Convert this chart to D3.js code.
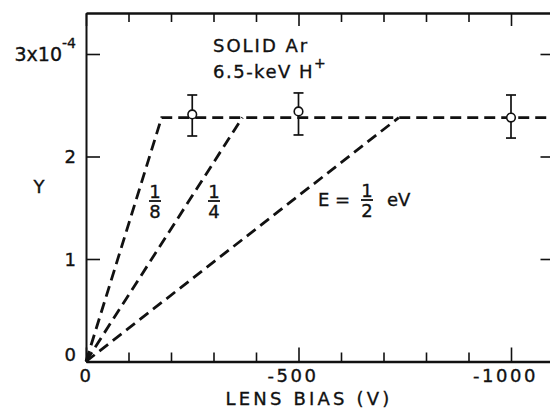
<!DOCTYPE html>
<html><head><meta charset="utf-8">
<script src="https://cdn.jsdelivr.net/npm/d3@7"></script>
<style>
body{margin:0;background:#fff}
text{font-family:"DejaVu Sans",sans-serif;fill:#111;stroke:#111;stroke-width:0.35px}
</style>
</head><body>
<svg id="chart" width="550" height="413"></svg>
<script>
// Measured sputtering yield vs. lens bias (solid Ar, 6.5-keV H+)
const biasPoints = [-250, -500, -1000];
const yieldValues = [2.41, 2.44, 2.38];
const yieldLow = [2.20, 2.21, 2.18];
const yieldHigh = [2.60, 2.62, 2.60];

// Model curves: linear rise from origin to a common plateau, one per emission energy
const plateauYield = 2.38;
const energyNum = ["1", "1", "1"];
const energyDen = ["8", "4", "2"];
const cutoffBias = [-178, -368, -736];

const xTickValues = d3.range(0, -1001, -100);
const xLabelValues = [0, -500, -1000];
const yTickValues = [0, 1, 2, 3];

const svg = d3.select("#chart");
svg.append("rect").attr("width", 550).attr("height", 413).attr("fill", "#fff");

const x = d3.scaleLinear().domain([0, -1100]).range([86, 553.5]);
const y = d3.scaleLinear().domain([0, 3.4]).range([361.5, 13]);

const ink = "#111";

function styleAxis(g, w) {
  g.select(".domain").attr("stroke", ink).attr("stroke-width", w);
  g.selectAll(".tick line").attr("stroke", ink).attr("stroke-width", 1.6);
}

// bottom axis
const gx = svg.append("g").attr("transform", `translate(0,${y(0)})`)
  .call(d3.axisBottom(x).tickValues(xTickValues).tickSize(-9).tickSizeOuter(0)
    .tickFormat(d => xLabelValues.includes(d) ? (d === 0 ? "0" : "-" + Math.abs(d)) : ""));
styleAxis(gx, 2.4);
gx.selectAll(".tick line").attr("y2", d => d % 500 === 0 ? -14 : -9);
gx.selectAll(".tick text").attr("y", 20.5).attr("dy", 0).attr("font-size", 18)
  .attr("letter-spacing", 2.5).attr("fill", ink).style("font-family", '"DejaVu Sans",sans-serif')
  .attr("dx", d => d === 0 ? 0 : -6);

// top axis
const gt = svg.append("g").attr("transform", `translate(0,${y(3.4)})`)
  .call(d3.axisTop(x).tickValues(xTickValues).tickSize(-9).tickSizeOuter(0).tickFormat(""));
styleAxis(gt, 2.4);
gt.selectAll(".tick line").attr("y2", d => d % 500 === 0 ? 13 : 9);

// left axis
const gy = svg.append("g").attr("transform", `translate(${x(0)},0)`)
  .call(d3.axisLeft(y).tickValues(yTickValues).tickSize(-14).tickSizeOuter(0).tickFormat(""));
styleAxis(gy, 2);

// right axis
const gr = svg.append("g").attr("transform", `translate(${x(-1100)},0)`)
  .call(d3.axisRight(y).tickValues([1, 2, 3]).tickSize(-13).tickSizeOuter(0).tickFormat(""));
styleAxis(gr, 2);

// y tick labels
const yl = svg.append("g").attr("font-size", 18).attr("text-anchor", "end");
yTickValues.forEach(v => {
  const t = yl.append("text").attr("x", 76).attr("y", v === 0 ? y(v) - 1 : y(v) + 6.5).attr("fill", ink);
  if (v === 3) {
    t.append("tspan").attr("font-size", 19).text("3x10");
    t.append("tspan").attr("font-size", 14).attr("dy", -13).text("-4");
  } else {
    t.text(String(v));
  }
});

// axis titles
svg.append("text").attr("x", 39).attr("y", 193).attr("text-anchor", "middle")
  .attr("font-size", 18).attr("fill", ink).text("Y");
svg.append("text").attr("x", 309).attr("y", 405).attr("text-anchor", "middle")
  .attr("font-size", 18).attr("letter-spacing", 3.2).attr("fill", ink).text("LENS BIAS (V)");

// dashed model curves
const line = d3.line().x(d => x(d[0])).y(d => y(d[1]));
cutoffBias.forEach((c, i) => {
  const pts = [[0, 0], [c, plateauYield]];
  if (i === 0) pts.push([-1100, plateauYield]);
  svg.append("path").attr("d", line(pts)).attr("fill", "none")
    .attr("stroke", ink).attr("stroke-width", 2.8).attr("stroke-dasharray", "11,6");
});

// error bars and data points
const pg = svg.append("g").attr("stroke", ink);
biasPoints.forEach((b, i) => {
  const cx = x(b);
  pg.append("line").attr("x1", cx).attr("x2", cx).attr("y1", y(yieldLow[i])).attr("y2", y(yieldHigh[i])).attr("stroke-width", 1.7);
  [yieldLow[i], yieldHigh[i]].forEach(v => {
    pg.append("line").attr("x1", cx - 5).attr("x2", cx + 5).attr("y1", y(v)).attr("y2", y(v)).attr("stroke-width", 1.7);
  });
  pg.append("circle").attr("cx", cx).attr("cy", y(yieldValues[i])).attr("r", 4.3)
    .attr("fill", "#fff").attr("stroke-width", 1.6);
});

// annotations
const ann = svg.append("g").attr("font-size", 18).attr("fill", ink);
ann.append("text").attr("x", 213).attr("y", 52).attr("letter-spacing", 2).text("SOLID  Ar");
const hl = ann.append("text").attr("x", 213).attr("y", 78).attr("letter-spacing", 1.5);
hl.append("tspan").text("6.5-keV  H");
hl.append("tspan").attr("font-size", 14).attr("dy", -10).text("+");

function fraction(cx, num, den, top) {
  ann.append("text").attr("x", cx).attr("y", top + 15).attr("text-anchor", "middle").text(num);
  ann.append("line").attr("x1", cx - 6).attr("x2", cx + 6).attr("y1", top + 18).attr("y2", top + 18)
    .attr("stroke", ink).attr("stroke-width", 1.8);
  ann.append("text").attr("x", cx).attr("y", top + 35).attr("text-anchor", "middle").text(den);
}
fraction(155, energyNum[0], energyDen[0], 183);
fraction(214, energyNum[1], energyDen[1], 183);
ann.append("text").attr("x", 318).attr("y", 206).text("E =");
fraction(367, energyNum[2], energyDen[2], 182);
ann.append("text").attr("x", 387).attr("y", 206).text("eV");
</script>
</body></html>
